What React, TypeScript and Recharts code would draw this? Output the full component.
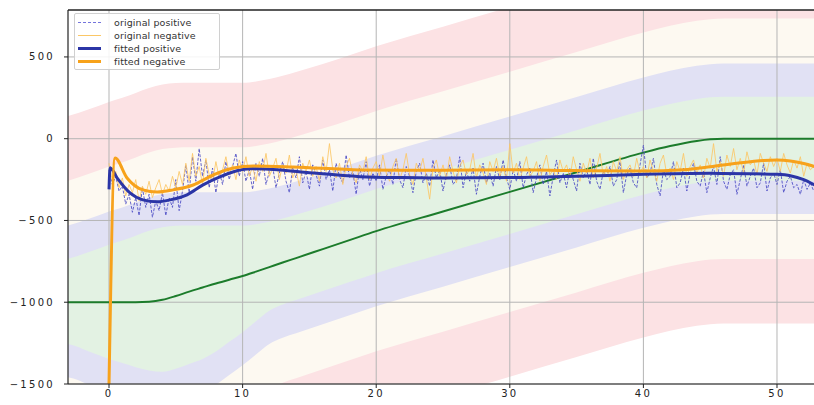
import React from 'react';
import { ComposedChart, Line, Area, XAxis, YAxis, ReferenceLine } from 'recharts';

const X_MIN = -3.07;
const X_MAX = 52.77;
const Y_MIN = -1500;
const Y_MAX = 787;
const xTicks = [0, 10, 20, 30, 40, 50];
const yTicks = [-1500, -1000, -500, 0, 500];

// target curve (green) and the centres the tolerance bands hang off
const targetX = [-4, -3, -1.5, 0, 1, 2, 3, 4, 5, 6, 7, 8, 9, 10, 11, 12, 13, 14, 16, 18, 20, 25, 30, 35, 40, 42, 44, 45, 46, 48, 50, 54];
const targetY = [-1000, -1000, -1000, -1000, -1000, -1000, -997, -985, -962, -935, -910, -885, -862, -840, -813, -785, -757, -730, -675, -620, -565, -445, -325, -205, -85, -45, -14, -4, 0, 0, 0, 0];
const upperCenter = [-1010, -990, -950, -905, -880, -850, -820, -798, -790, -788, -788, -788, -788, -788, -780, -765, -745, -722, -673, -620, -565, -445, -325, -205, -85, -45, -14, -4, 0, 0, 0, 0];
const lowerCenter = [-995, -1000, -1045, -1090, -1115, -1140, -1160, -1168, -1150, -1120, -1090, -1045, -985, -926, -860, -795, -757, -730, -675, -620, -565, -445, -325, -205, -85, -45, -14, -4, 0, 0, 0, 0];
const bandWidths = { red: 1130, cream: 735, blue: 460, green: 257 };
const bandColors = { red: '#fce2e4', cream: '#fdf9f1', blue: '#e1e1f4', green: '#e3f2e3' };

// noisy measurements, one every 0.25 from x = 0
const origStep = 0.25;
const origPositive = [
  -190, -280, -230, -320, -290, -400, -340, -450, -360, -470, -300, -420, -340, -480, -380, -440, -330, -470, -360, -420,
  -250, -440, -320, -160, -330, -110, -260, -60, -230, -130, -300, -180, -330, -200, -280, -140, -250, -170, -90, -230,
  -140, -260, -190, -310, -150, -230, -120, -280, -200, -170, -300, -210, -140, -260, -330, -180, -240, -110, -270, -200,
  -310, -160, -220, -290, -130, -250, -190, -320, -150, -230, -270, -100, -240, -200, -340, -180, -250, -140, -290, -210,
  -260, -160, -310, -230, -190, -280, -120, -250, -300, -170, -230, -330, -200, -150, -270, -210, -290, -130, -240, -190,
  -320, -220, -160, -280, -250, -110, -300, -200, -260, -180, -340, -230, -150, -270, -210, -290, -170, -250, -130, -240,
  -310, -190, -260, -140, -300, -220, -180, -330, -240, -160, -280, -200, -350, -230, -130, -270, -210, -300, -180, -250,
  -320, -150, -240, -190, -280, -120, -260, -310, -200, -230, -170, -290, -250, -140, -330, -220, -180, -270, -300, -160,
  -40, -240, -210, -120, -280, -350, -190, -250, -230, -140, -300, -270, -180, -320, -210, -150, -260, -290, -200, -330,
  -240, -170, -280, -110, -260, -310, -220, -190, -340, -250, -160, -290, -230, -180, -300, -270, -150, -320, -240, -210,
  -280, -190, -330, -260, -230, -300, -280, -340, -250, -310, -270, -320,
];
const origNegative = [
  -150, -260, -200, -300, -240, -350, -280, -330, -250, -380, -290, -340, -260, -360, -300, -250, -340, -280, -320, -230,
  -300, -200, -280, -150, -260, -90, -230, -170, -280, -120, -220, -260, -140, -240, -190, -110, -220, -160, -250, -130,
  -200, -110, -230, -170, -260, -140, -200, -90, -230, -180, -120, -250, -160, -210, -100, -240, -190, -290, -150, -200,
  -130, -230, -170, -260, -110, -200, -30, -190, -240, -150, -280, -170, -120, -220, -270, -160, -200, -110, -250, -180,
  -140, -230, -100, -210, -260, -170, -120, -250, -190, -90, -220, -280, -150, -200, -120, -240, -370, -180, -130, -230,
  -160, -250, -110, -200, -270, -170, -130, -220, -190, -90, -240, -160, -210, -280, -140, -200, -120, -230, -170, -260,
  -30, -210, -150, -250, -180, -110, -230, -200, -140, -260, -170, -100, -220, -190, -250, -130, -200, -160, -240, -110,
  -190, -260, -150, -210, -120, -240, -180, -90, -230, -170, -260, -140, -200, -110, -250, -190, -160, -230, -120, -210,
  -170, -240, -130, -200, -260, -150, -100, -220, -180, -250, -140, -200, -90, -230, -170, -130, -210, -160, -240, -120,
  -180, -30, -200, -140, -230, -100, -170, -60, -190, -120, -210, -80, -160, -130, -220, -90, -150, -200, -110, -170,
  -120, -200, -90, -160, -210, -130, -180, -110, -230, -150, -190, -170,
];

const fitPosX = [0, 0.08, 0.6, 1.57, 2.54, 3.6, 4.57, 5.84, 7.04, 8.3, 9.58, 10.55, 12.6, 15, 18.8, 22, 25, 30, 35, 40, 45, 48, 50, 51, 52, 52.8];
const fitPosY = [-310, -178, -239, -331, -374, -386, -374, -343, -282, -233, -196, -184, -190, -208, -232, -238, -240, -238, -230, -218, -212, -214, -218, -226, -250, -282];
const fitNegX = [0, 0.45, 1.35, 2.54, 3.6, 4.8, 6.3, 7.8, 9.3, 10.8, 13.8, 18.8, 22, 25, 30, 35, 40, 43, 45, 47, 49, 50, 51, 52, 52.8];
const fitNegY = [-1500, -118, -240, -313, -326, -313, -283, -222, -179, -167, -173, -191, -193, -193, -190, -195, -198, -190, -172, -150, -133, -130, -136, -152, -170];

const legendItems = [
  { name: 'original positive', color: '#7474dc', width: 1, dash: '3 2' },
  { name: 'original negative', color: '#fbc766', width: 1, dash: undefined },
  { name: 'fitted positive', color: '#2b35a6', width: 3, dash: undefined },
  { name: 'fitted negative', color: '#f7a21b', width: 3, dash: undefined },
];

const bandData = targetX.map((x, i) => ({
  x,
  target: targetY[i],
  red: [lowerCenter[i] - bandWidths.red, upperCenter[i] + bandWidths.red],
  cream: [lowerCenter[i] - bandWidths.cream, upperCenter[i] + bandWidths.cream],
  blue: [lowerCenter[i] - bandWidths.blue, upperCenter[i] + bandWidths.blue],
  green: [lowerCenter[i] - bandWidths.green, upperCenter[i] + bandWidths.green],
}));
const posData = origPositive.map((y, i) => ({ x: i * origStep, y }));
const negData = origNegative.map((y, i) => ({ x: i * origStep, y }));
const fitPosData = fitPosX.map((x, i) => ({ x, y: fitPosY[i] }));
const fitNegData = fitNegX.map((x, i) => ({ x, y: fitNegY[i] }));

const fmt = (v: number) => (v < 0 ? '\u2212' + Math.abs(v) : String(v));
const tickStyle = { fontSize: 10, fill: '#222', fontFamily: 'DejaVu Sans', letterSpacing: 2.3 };

const App = () => {
  return (
    <div style={{ position: 'relative', width: 814, height: 405, overflow: 'hidden', background: '#fff' }}>
      <style>{'body{margin:0}'}</style>
      <ComposedChart width={814} height={405} margin={{ top: 10, right: 0, bottom: 0, left: 0 }}>
        <XAxis
          type="number"
          dataKey="x"
          domain={[X_MIN, X_MAX]}
          allowDataOverflow
          ticks={xTicks}
          height={21}
          tickSize={4}
          tickMargin={2}
          tick={tickStyle}
          axisLine={{ stroke: '#222', strokeWidth: 1.2 }}
          tickLine={{ stroke: '#222' }}
        />
        <YAxis
          type="number"
          domain={[Y_MIN, Y_MAX]}
          allowDataOverflow
          ticks={yTicks}
          width={68}
          tickSize={4}
          tickMargin={9}
          tickFormatter={fmt}
          tick={tickStyle}
          axisLine={{ stroke: '#222', strokeWidth: 1.2 }}
          tickLine={{ stroke: '#222' }}
        />
        {(['red', 'cream', 'blue', 'green'] as const).map((k) => (
          <Area
            key={k}
            data={bandData}
            dataKey={k}
            type="monotone"
            stroke="none"
            fill={bandColors[k]}
            fillOpacity={1}
            isAnimationActive={false}
          />
        ))}
        {xTicks.map((t) => (
          <ReferenceLine key={'gx' + t} x={t} stroke="#b5b5b5" strokeWidth={1} />
        ))}
        {yTicks.map((t) => (
          <ReferenceLine key={'gy' + t} y={t} stroke="#b5b5b5" strokeWidth={1} />
        ))}
        <ReferenceLine y={Y_MAX} stroke="#222" strokeWidth={1.5} />
        <Line data={bandData} dataKey="target" type="monotone" stroke="#1c7c2b" strokeWidth={2} dot={false} isAnimationActive={false} />
        <Line data={posData} dataKey="y" type="linear" stroke="#4a4ac4" strokeWidth={1} strokeDasharray="3 1.5" strokeOpacity={0.85} dot={false} isAnimationActive={false} />
        <Line data={negData} dataKey="y" type="linear" stroke="#fbc766" strokeWidth={1} strokeOpacity={0.85} dot={false} isAnimationActive={false} />
        <Line data={fitPosData} dataKey="y" type="monotone" stroke="#2b35a6" strokeWidth={3} dot={false} isAnimationActive={false} />
        <Line data={fitNegData} dataKey="y" type="monotone" stroke="#f7a21b" strokeWidth={3} dot={false} isAnimationActive={false} />
      </ComposedChart>
      <div
        style={{
          position: 'absolute',
          left: 74,
          top: 13,
          width: 146,
          height: 57,
          boxSizing: 'border-box',
          border: '1px solid #d0d0d0',
          borderRadius: 2,
          background: 'rgba(255,255,255,0.85)',
          paddingTop: 2,
          fontFamily: 'DejaVu Sans',
          fontSize: 9.5,
          color: '#333',
        }}
      >
        {legendItems.map((it) => (
          <div key={it.name} style={{ display: 'flex', alignItems: 'center', height: 13 }}>
            <svg width={39} height={13} style={{ flex: 'none' }}>
              <line x1={3} x2={26} y1={6.5} y2={6.5} stroke={it.color} strokeWidth={it.width} strokeDasharray={it.dash} />
            </svg>
            <span style={{ letterSpacing: 0.1, whiteSpace: 'nowrap' }}>{it.name}</span>
          </div>
        ))}
      </div>
    </div>
  );
};

export default App;
